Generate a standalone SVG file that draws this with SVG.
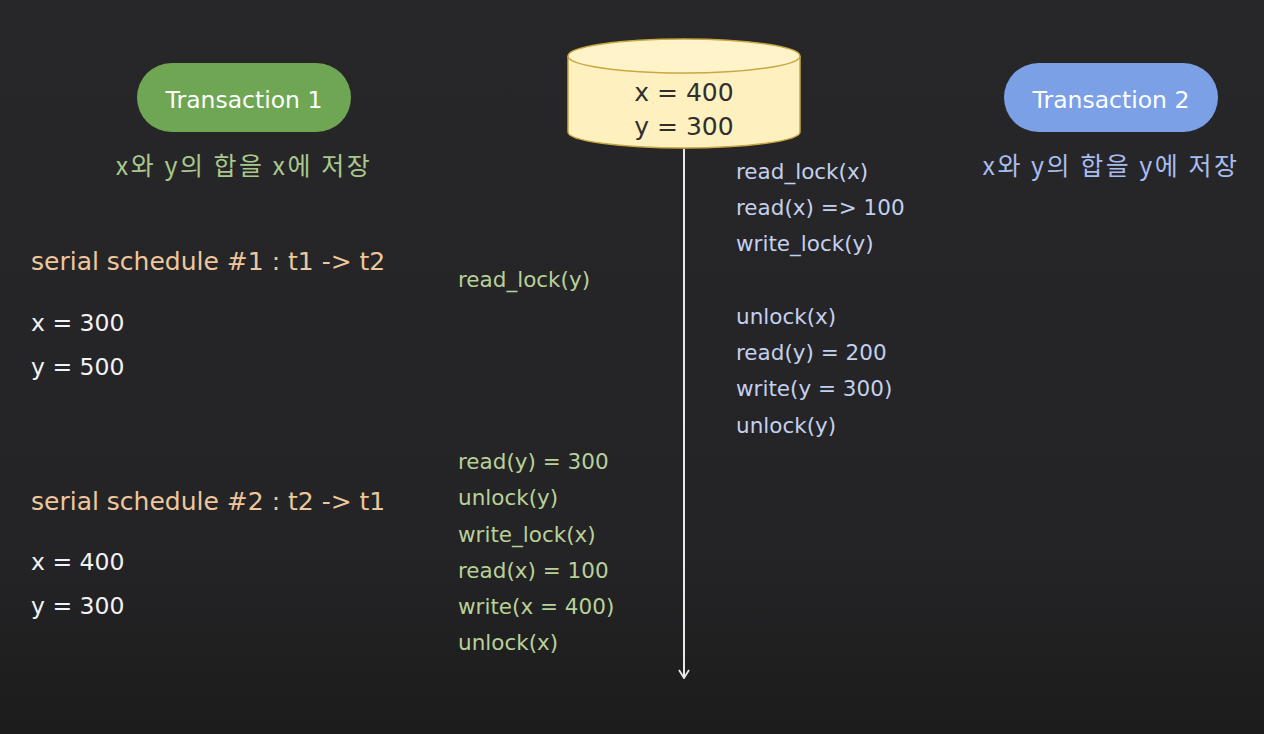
<svg xmlns="http://www.w3.org/2000/svg" width="1264" height="734" viewBox="0 0 1264 734">
<defs>
<linearGradient id="bg" x1="0" y1="0" x2="0" y2="1">
<stop offset="0" stop-color="#272628"/>
<stop offset="0.75" stop-color="#242325"/>
<stop offset="1" stop-color="#1c1c1d"/>
</linearGradient>
<marker id="ah" viewBox="0 0 10 12" refX="9" refY="6" markerWidth="10" markerHeight="12" markerUnits="userSpaceOnUse" orient="auto">
<path d="M1,1 L9,6 L1,11" fill="none" stroke="#e8e8e8" stroke-width="1.8"/>
</marker>
<style>
text{font-family:"DejaVu Sans","Noto Sans CJK KR",sans-serif;}
.pill{font-size:23.5px;fill:#ffffff;text-anchor:middle;}
.kr{font-size:25px;letter-spacing:2.5px;text-anchor:middle;font-family:"Noto Sans CJK KR","DejaVu Sans",sans-serif;}
.g{fill:#b8d198;font-size:21.5px;}
.b{fill:#c3d0ef;font-size:21.5px;}
.hd{fill:#efc79c;font-size:25px;}
.v{fill:#f2f3f6;font-size:23.5px;}
.db{fill:#2f2f2f;font-size:25px;text-anchor:middle;}
</style>
</defs>
<rect width="1264" height="734" fill="url(#bg)"/>
<g id="connectors">
<line x1="684" y1="149" x2="684" y2="678" stroke="#e8e8e8" stroke-width="2" marker-end="url(#ah)"/>
</g>
<g id="transaction1">
<rect x="137" y="63" width="214" height="69" rx="34.5" fill="#6ea654"/>
<text class="pill" x="244" y="108">Transaction 1</text>
<text class="kr" x="244" y="175" fill="#a9c88c">x와 y의 합을 x에 저장</text>
</g>
<g id="database">
<path d="M568,56 L568,132 A116,16 0 0 0 800,132 L800,56" fill="#fff1bf" stroke="#c9a743" stroke-width="1.5"/>
<ellipse cx="684" cy="56" rx="116" ry="17" fill="#fff4c9" stroke="#c9a743" stroke-width="1.5"/>
<text class="db" x="684" y="101">x = 400</text>
<text class="db" x="684" y="135">y = 300</text>
</g>
<g id="transaction2">
<rect x="1004" y="63" width="214" height="69" rx="34.5" fill="#7ba0e6"/>
<text class="pill" x="1111" y="108">Transaction 2</text>
<text class="kr" x="1111" y="175" fill="#a8bcef">x와 y의 합을 y에 저장</text>
</g>
<g id="t2-ops">
<text class="b" x="736" y="179">read_lock(x)</text>
<text class="b" x="736" y="215">read(x) =&gt; 100</text>
<text class="b" x="736" y="251">write_lock(y)</text>
<text class="b" x="736" y="324">unlock(x)</text>
<text class="b" x="736" y="360">read(y) = 200</text>
<text class="b" x="736" y="396">write(y = 300)</text>
<text class="b" x="736" y="433">unlock(y)</text>
</g>
<g id="t1-ops">
<text class="g" x="458" y="287">read_lock(y)</text>
<text class="g" x="458" y="469">read(y) = 300</text>
<text class="g" x="458" y="505">unlock(y)</text>
<text class="g" x="458" y="542">write_lock(x)</text>
<text class="g" x="458" y="578">read(x) = 100</text>
<text class="g" x="458" y="614">write(x = 400)</text>
<text class="g" x="458" y="650">unlock(x)</text>
</g>
<g id="schedule1">
<text class="hd" x="31" y="270">serial schedule #1 : t1 -&gt; t2</text>
<text class="v" x="31" y="331">x = 300</text>
<text class="v" x="31" y="375">y = 500</text>
</g>
<g id="schedule2">
<text class="hd" x="31" y="510">serial schedule #2 : t2 -&gt; t1</text>
<text class="v" x="31" y="570">x = 400</text>
<text class="v" x="31" y="614">y = 300</text>
</g>
</svg>
